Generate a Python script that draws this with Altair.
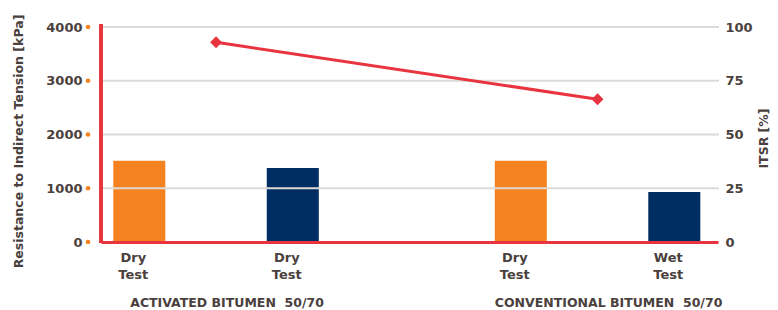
import altair as alt
import pandas as pd

# ---- data ----
NB = "\u00a0"
groups = ["ACTIVATED BITUMEN " + NB + "50/70", "ACTIVATED BITUMEN " + NB + "50/70",
          "CONVENTIONAL BITUMEN " + NB + "50/70", "CONVENTIONAL BITUMEN " + NB + "50/70"]
series = ["first", "second", "first", "second"]
test_labels = ["Dry\nTest", "Dry\nTest", "Dry\nTest", "Wet\nTest"]
resistance = [1510, 1375, 1510, 930]          # kPa (left axis)
itsr_groups = ["ACTIVATED BITUMEN " + NB + "50/70", "CONVENTIONAL BITUMEN " + NB + "50/70"]
itsr = [92.9, 66.4]                            # % (right axis)
left_ticks = [0, 1000, 2000, 3000, 4000]
right_ticks = [0, 25, 50, 75, 100]

ORANGE = "#F58220"
NAVY = "#002D62"
RED = "#E8343F"
GRID = "#DEDAD6"
TEXT = "#4A403D"
FONT = "DejaVu Sans"
FS = 13

bars_df = pd.DataFrame({"group": groups, "series": series,
                        "label": test_labels, "resistance": resistance})
line_df = pd.DataFrame({"group": itsr_groups, "itsr": itsr})
tick_df = pd.DataFrame({"resistance": left_ticks})

x_scale = alt.Scale(paddingInner=0.4613, paddingOuter=0.0393, align=0.41, round=False)
x_enc = alt.X("group:N", scale=x_scale, sort=itsr_groups,
              axis=alt.Axis(labels=False, ticks=False, title=None, zindex=1,
                            domain=True, domainColor=RED, domainWidth=3))
xo_enc = alt.XOffset("series:N", scale=alt.Scale(paddingInner=0.661, paddingOuter=0,
                                                 round=False))
y_scale = alt.Scale(domain=[0, 4000])
left_axis = alt.Axis(values=left_ticks, format="d", grid=False, ticks=False, domain=False,
                     labelPadding=19, labelFont=FONT, labelFontWeight="bold",
                     labelFontSize=FS, labelColor=TEXT,
                     title="Resistance to Indirect Tension [kPa]",
                     titleFont=FONT, titleFontWeight="bold", titleFontSize=12.5,
                     titleColor=TEXT, titleAngle=270, titleX=-83, titleY=114,
                     titleAlign="center", titleBaseline="middle")
y_left = alt.Y("resistance:Q", scale=y_scale, axis=left_axis,
               title="Resistance to Indirect Tension [kPa]")

bars = alt.Chart(bars_df).mark_bar().encode(
    x=x_enc,
    xOffset=xo_enc,
    y=y_left,
    color=alt.Color("series:N", scale=alt.Scale(domain=["first", "second"],
                                                range=[ORANGE, NAVY]), legend=None),
)

grid = alt.Chart(tick_df).mark_rule(color=GRID, strokeWidth=2).encode(
    y=y_left,
    x=alt.value(0), x2=alt.value(618),
)

dots = alt.Chart(tick_df).mark_circle(color=ORANGE, opacity=1, size=22).encode(
    y=y_left,
    x=alt.value(-13),
)

left_rule = alt.Chart(tick_df).mark_rule(color=RED, strokeWidth=3).encode(
    x=alt.value(0), y=alt.value(-3), y2=alt.value(216),
)

bar_labels = alt.Chart(bars_df).mark_text(
    font=FONT, fontWeight="bold", fontSize=FS, color=TEXT,
    baseline="top", align="center", lineBreak="\n", lineHeight=17, dx=-6,
).encode(
    x=x_enc, xOffset=xo_enc, y=alt.value(225), text="label:N",
)

group_labels = alt.Chart(line_df).mark_text(
    font=FONT, fontWeight="bold", fontSize=12.5, color=TEXT,
    baseline="top", align="center", dx=11,
).encode(
    x=x_enc, y=alt.value(270), text="group:N",
)

left = alt.layer(bars, grid, dots, left_rule, bar_labels, group_labels)

line = alt.Chart(line_df).mark_line(
    color=RED, strokeWidth=3,
    point=alt.OverlayMarkDef(shape="diamond", size=140, filled=True, color=RED, opacity=1),
).encode(
    x=x_enc,
    y=alt.Y("itsr:Q", scale=alt.Scale(domain=[0, 100]),
            axis=alt.Axis(orient="right", values=right_ticks, grid=False, ticks=False,
                          domain=False, labelPadding=7, labelFont=FONT,
                          labelFontWeight="bold", labelFontSize=FS, labelColor=TEXT,
                          title="ITSR [%]", titleFont=FONT, titleFontWeight="bold",
                          titleFontSize=12.5, titleColor=TEXT, titleAngle=270,
                          titleX=45, titleY=111, titleAlign="center",
                          titleBaseline="middle")),
)

chart = alt.layer(left, line).resolve_scale(y="independent").properties(
    width=617, height=215,
    autosize=alt.AutoSizeParams(type="none"),
    padding={"left": 93, "top": 19, "right": 52, "bottom": 68},
).configure_view(stroke=None)

chart.save("out.html", embed_options={"renderer": "svg", "actions": False})
